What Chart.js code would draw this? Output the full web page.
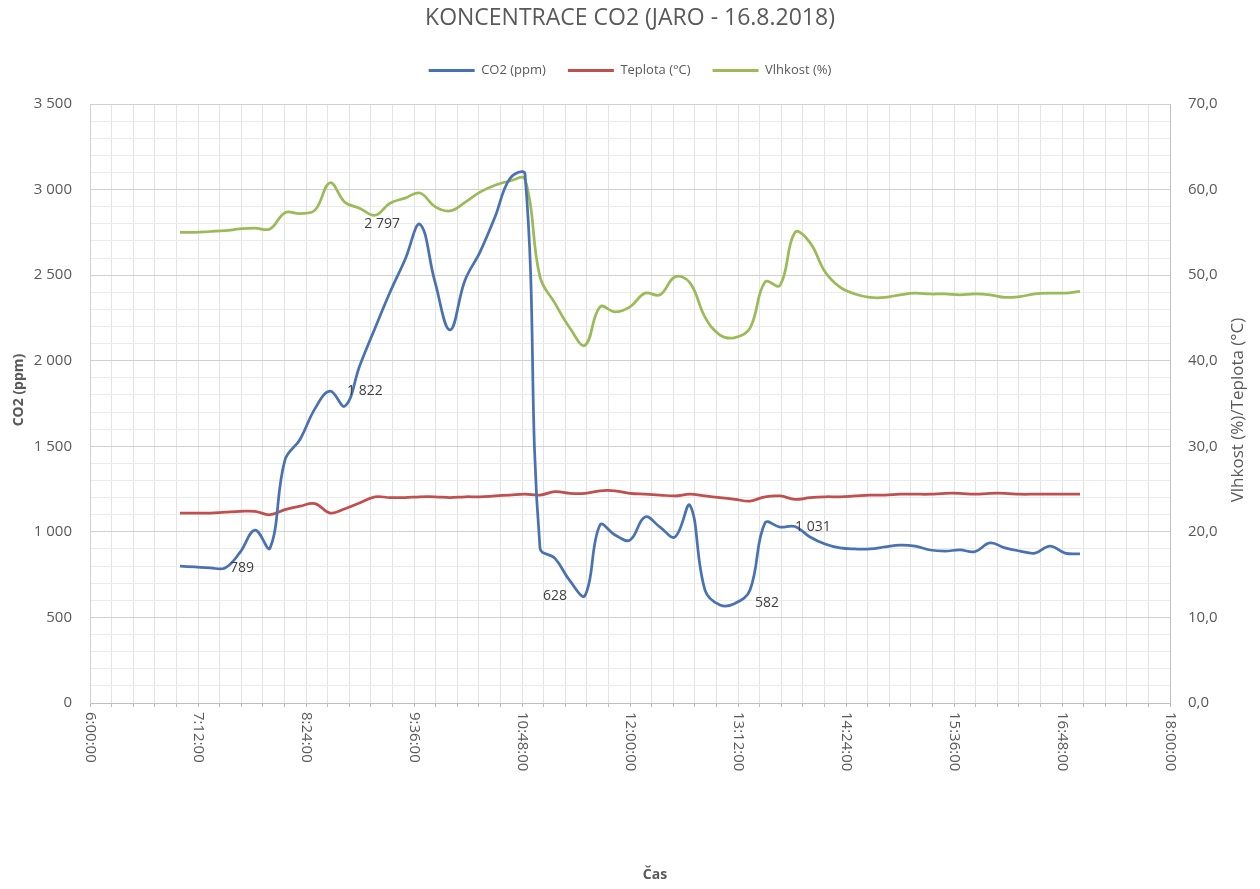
<!DOCTYPE html>
<html>
<head>
<meta charset="utf-8">
<script src="https://cdn.jsdelivr.net/npm/chart.js@4.4.1/dist/chart.umd.min.js"></script>
<style>
  html, body { margin: 0; padding: 0; background: #ffffff; }
  #wrap { width: 1260px; height: 889px; }
</style>
</head>
<body>
<div id="wrap"><canvas id="c" width="1260" height="889"></canvas></div>
<script>
// Measurement times (every 10 minutes)
const times = [
  '7:00','7:10','7:20','7:30','7:40','7:50','8:00','8:10','8:20','8:30',
  '8:40','8:50','9:00','9:10','9:20','9:30','9:40','9:50','10:00','10:10',
  '10:20','10:30','10:40','10:50','11:00','11:10','11:20','11:30','11:40','11:50',
  '12:00','12:10','12:20','12:30','12:40','12:50','13:00','13:10','13:20','13:30',
  '13:40','13:50','14:00','14:10','14:20','14:30','14:40','14:50','15:00','15:10',
  '15:20','15:30','15:40','15:50','16:00','16:10','16:20','16:30','16:40','16:50',
  '17:00'
];

// CO2 (ppm)
const co2 = [
  800, 795, 790, 789, 880, 1010, 905, 1420, 1540, 1720,
  1822, 1735, 1975, 2190, 2400, 2590, 2797, 2460, 2180, 2470,
  2635, 2840, 3065, 3090, 905, 845, 713, 628, 1040, 982,
  952, 1087, 1028, 970, 1155, 660, 573, 582, 660, 1052,
  1028, 1031, 970, 929, 906, 900, 900, 912, 923, 917,
  894, 888, 894, 885, 935, 906, 888, 876, 917, 876,
  871
];

// Teplota (°C)
const teplota = [
  22.2, 22.2, 22.2, 22.3, 22.4, 22.4, 22.0, 22.6, 23.0, 23.3,
  22.2, 22.7, 23.4, 24.1, 24.0, 24.0, 24.1, 24.1, 24.0, 24.1,
  24.1, 24.2, 24.3, 24.4, 24.3, 24.7, 24.5, 24.5, 24.8, 24.8,
  24.5, 24.4, 24.3, 24.2, 24.4, 24.2, 24.0, 23.8, 23.6, 24.1,
  24.2, 23.8, 24.0, 24.1, 24.1, 24.2, 24.3, 24.3, 24.4, 24.4,
  24.4, 24.5, 24.5, 24.4, 24.5, 24.5, 24.4, 24.4, 24.4, 24.4,
  24.4
];

// Vlhkost (%)
const vlhkost = [
  55.0, 55.0, 55.1, 55.2, 55.4, 55.5, 55.4, 57.3, 57.2, 57.6,
  60.8, 58.5, 57.8, 57.0, 58.4, 59.0, 59.6, 58.0, 57.5, 58.5,
  59.7, 60.5, 61.0, 61.2, 49.8, 46.7, 43.8, 41.8, 46.3, 45.7,
  46.3, 47.9, 47.7, 49.8, 49.1, 45.1, 43.0, 42.7, 43.8, 49.2,
  48.8, 55.0, 53.8, 50.4, 48.6, 47.8, 47.4, 47.4, 47.7, 47.9,
  47.8, 47.8, 47.7, 47.8, 47.7, 47.4, 47.5, 47.8, 47.9, 47.9,
  48.1
];

// Time axis labels
const timeTickLabels = [
  '6:00:00','7:12:00','8:24:00','9:36:00','10:48:00','12:00:00',
  '13:12:00','14:24:00','15:36:00','16:48:00','18:00:00'
];

// CO2 points that carry a value label
const co2LabelIndex = [3, 10, 16, 27, 37, 41];
// label placement relative to the point (px)
const co2LabelPlace = [
  { dx: 5,   align: 'left'  },
  { dx: 17,  align: 'left'  },
  { dx: -20, align: 'right' },
  { dx: -18, align: 'right' },
  { dx: 20,  align: 'left'  },
  { dx: 0,   align: 'left'  }
];

const FONT = '"Open Sans", "DejaVu Sans", sans-serif';
const TEXT = '#595959';

const toMinutes = s => {
  const p = s.split(':').map(Number);
  return p[0] * 60 + p[1] + (p[2] || 0) / 60;
};
const fmtThousands = v => String(Math.round(v)).replace(/\B(?=(\d{3})+(?!\d))/g, ' ');
const fmtDecimal = v => v.toFixed(1).replace('.', ',');

const xs = times.map(toMinutes);
const pts = arr => arr.map((v, i) => ({ x: xs[i], y: v }));

// Extra drawing: rotated time labels, axis titles and CO2 value labels
const annotations = {
  id: 'annotations',
  afterDatasetsDraw(chart) {
    const ctx = chart.ctx;
    const meta = chart.getDatasetMeta(0);
    ctx.save();
    ctx.font = '14px ' + FONT;
    ctx.fillStyle = '#404040';
    ctx.textBaseline = 'middle';
    co2LabelIndex.forEach((idx, k) => {
      const el = meta.data[idx];
      const place = co2LabelPlace[k];
      ctx.textAlign = place.align;
      ctx.fillText(fmtThousands(co2[idx]), el.x + place.dx, el.y);
    });
    ctx.restore();
  },
  afterDraw(chart) {
    const ctx = chart.ctx;
    const xScale = chart.scales.x;
    const area = chart.chartArea;
    ctx.save();
    ctx.fillStyle = TEXT;
    // time tick labels, turned clockwise
    ctx.font = '15px ' + FONT;
    ctx.textAlign = 'left';
    ctx.textBaseline = 'middle';
    timeTickLabels.forEach(lab => {
      const px = xScale.getPixelForValue(toMinutes(lab));
      ctx.save();
      ctx.translate(px, area.bottom + 9);
      ctx.rotate(Math.PI / 2);
      ctx.fillText(lab, 0, 0);
      ctx.restore();
    });
    // x axis title
    ctx.font = 'bold 14px ' + FONT;
    ctx.textAlign = 'center';
    ctx.fillText('Čas', 655, 875);
    // left axis title
    ctx.save();
    ctx.translate(19, 390);
    ctx.rotate(-Math.PI / 2);
    ctx.font = 'bold 14px ' + FONT;
    ctx.fillText('CO2 (ppm)', 0, 0);
    ctx.restore();
    // right axis title
    ctx.save();
    ctx.translate(1238, 410);
    ctx.rotate(-Math.PI / 2);
    ctx.font = '17px ' + FONT;
    ctx.fillText('Vlhkost (%)/Teplota (°C)', 0, 0);
    ctx.restore();
    ctx.restore();
  }
};

const lineSet = (label, data, color, axis) => ({
  label,
  data: pts(data),
  yAxisID: axis,
  borderColor: color,
  backgroundColor: color,
  borderWidth: 2.75,
  pointRadius: 0,
  pointHoverRadius: 0,
  tension: 0.4,
  fill: false
});

new Chart(document.getElementById('c'), {
  type: 'line',
  data: {
    datasets: [
      lineSet('CO2 (ppm)', co2, '#4A72B2', 'y'),
      lineSet('Teplota (°C)', teplota, '#C0504D', 'y1'),
      lineSet('Vlhkost (%)', vlhkost, '#9BBB59', 'y1')
    ]
  },
  options: {
    responsive: false,
    animation: false,
    devicePixelRatio: 1,
    layout: { padding: 0 },
    plugins: {
      title: {
        display: true,
        text: 'KONCENTRACE CO2 (JARO - 16.8.2018)',
        color: TEXT,
        font: { family: FONT, size: 23, weight: 'normal' },
        padding: { top: 4, bottom: 10 }
      },
      // blank strip that keeps the legend clear of the plot area
      subtitle: {
        display: true,
        text: ' ',
        weight: 500,
        font: { family: FONT, size: 10 },
        padding: { top: 0, bottom: 5 }
      },
      legend: {
        display: true,
        position: 'top',
        labels: {
          boxWidth: 46,
          boxHeight: 3,
          padding: 22,
          color: TEXT,
          font: { family: FONT, size: 13 },
          generateLabels(chart) {
            return chart.data.datasets.map((ds, i) => ({
              text: ds.label,
              fillStyle: ds.borderColor,
              strokeStyle: ds.borderColor,
              lineWidth: 0,
              fontColor: TEXT,
              hidden: false,
              datasetIndex: i
            }));
          }
        }
      },
      tooltip: { enabled: false }
    },
    scales: {
      x: {
        type: 'linear',
        min: 360,
        max: 1080,
        afterBuildTicks(scale) {
          const ticks = [];
          for (let k = 0; k <= 50; k++) ticks.push({ value: 360 + k * 14.4 });
          scale.ticks = ticks;
        },
        afterFit(scale) { scale.height = 186; },
        ticks: { display: false },
        grid: { color: '#e3e3e3', lineWidth: 1, tickLength: 4, tickColor: '#bfbfbf' },
        border: { display: true, color: '#bfbfbf', width: 1 }
      },
      y: {
        position: 'left',
        min: 0,
        max: 3500,
        afterFit(scale) { scale.width = 90; scale.paddingTop = 104; },
        ticks: {
          stepSize: 100,
          autoSkip: false,
          padding: 18,
          color: TEXT,
          font: { family: FONT, size: 15 },
          callback: v => (v % 500 === 0 ? fmtThousands(v) : '')
        },
        grid: {
          drawTicks: false,
          lineWidth: 1,
          color: c => (c.tick && c.tick.value % 500 === 0 ? '#d0d0d0' : '#ebebeb')
        },
        border: { display: true, color: '#d0d0d0', width: 1 }
      },
      y1: {
        position: 'right',
        min: 0,
        max: 70,
        afterFit(scale) { scale.width = 90; scale.paddingTop = 104; },
        ticks: {
          stepSize: 10,
          padding: 18,
          color: TEXT,
          font: { family: FONT, size: 15 },
          callback: v => fmtDecimal(v)
        },
        grid: { drawOnChartArea: false, drawTicks: false },
        border: { display: true, color: '#bfbfbf', width: 1 }
      }
    }
  },
  plugins: [annotations]
});
</script>
</body>
</html>
